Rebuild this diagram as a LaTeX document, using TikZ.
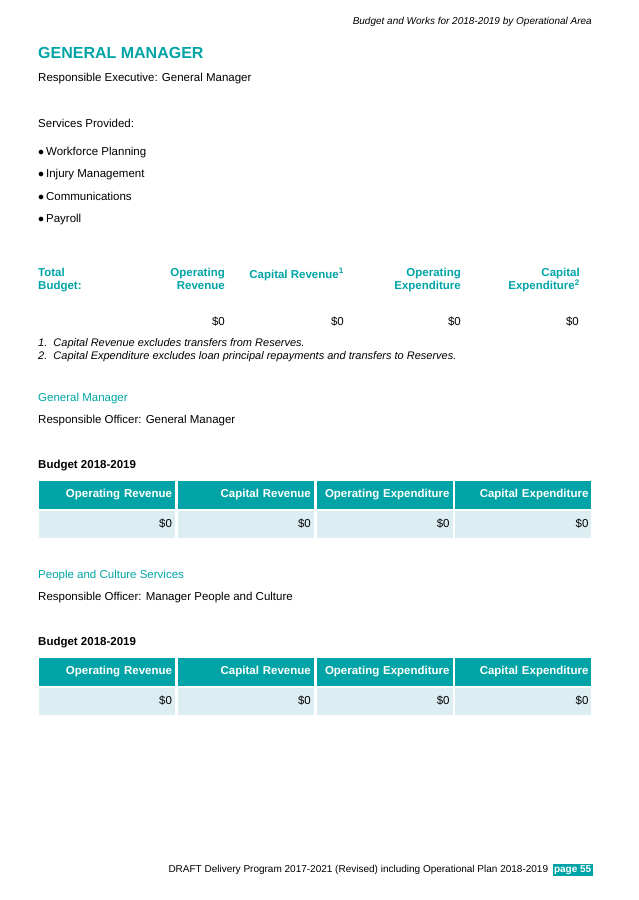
\documentclass[tikz,border=0pt]{standalone}
\usepackage{fontspec}
\setmainfont{Liberation Sans}
\usetikzlibrary{positioning}
\definecolor{teal1}{HTML}{00A4A6}
\definecolor{cellbg}{HTML}{DDEEF3}
\tikzset{txt/.style={anchor=base west, inner sep=0pt, font=\fontsize{11.5}{13}\selectfont},
  rtxt/.style={anchor=base east, inner sep=0pt, font=\fontsize{11.5}{13}\selectfont},
  tbold/.style={rtxt, text=teal1, font=\fontsize{11.5}{13}\selectfont\bfseries},
  hcell/.style={fill=teal1, text=white, minimum width=136pt, minimum height=28pt, inner sep=3pt, align=right, text width=130pt, font=\fontsize{11.5}{13}\selectfont\bfseries},
  dcell/.style={fill=cellbg, minimum width=136pt, minimum height=27pt, inner sep=3pt, align=right, text width=130pt, font=\fontsize{11.5}{13}\selectfont}}
\begin{document}
\begin{tikzpicture}[x=1pt,y=-1pt]
\useasboundingbox (0,0) rectangle (638,900);
% header
\node[rtxt, font=\fontsize{10}{12}\selectfont\itshape] (hd) at (592,24) {Budget and Works for 2018-2019 by Operational Area};
\node[txt, text=teal1, font=\fontsize{16}{18}\selectfont\bfseries] (title) at (38,58) {GENERAL MANAGER};
\node[txt] (exec) at (38,81) {Responsible Executive: General Manager};
\node[txt] (serv) at (38,127) {Services Provided:};
\foreach \t [count=\i] in {Workforce Planning, Injury Management, Communications, Payroll}
  \node[txt] (b\i) at (38,155+22.6*\i-22.6) {$\bullet$\,\t};
% total budget
\node[txt, text=teal1, font=\fontsize{11.5}{13}\selectfont\bfseries, align=left, anchor=north west] (tot) at (38,268) {Total\\Budget:};
\node[tbold, align=right, anchor=north east] (or) at (225,268) {Operating\\Revenue};
\node[tbold, anchor=north east] (cr) at (344,268) {Capital Revenue\textsuperscript{1}};
\node[tbold, align=right, anchor=north east] (oe) at (461,268) {Operating\\Expenditure};
\node[tbold, align=right, anchor=north east] (ce) at (580,268) {Capital\\Expenditure\textsuperscript{2}};
\foreach \x/\n in {225/v1,344/v2,461/v3,579/v4}
  \node[rtxt] (\n) at (\x,325) {\$0};
\node[txt, font=\fontsize{11}{13}\selectfont\itshape] (fn1) at (38,346) {1.\ \ Capital Revenue excludes transfers from Reserves.};
\node[txt, font=\fontsize{11}{13}\selectfont\itshape] (fn2) at (38,359) {2.\ \ Capital Expenditure excludes loan principal repayments and transfers to Reserves.};
% sections
\foreach \y/\name/\off/\s in {0/General Manager/General Manager/a, 177/People and Culture Services/Manager People and Culture/b}{
  \node[txt, text=teal1] (sec\s) at (38,401+\y) {\name};
  \node[txt] (off\s) at (38,423+\y) {Responsible Officer: \off};
  \node[txt, font=\fontsize{11.5}{13}\selectfont\bfseries] (bud\s) at (38,468+\y) {Budget 2018-2019};
  \foreach \h [count=\i] in {Operating Revenue, Capital Revenue, Operating Expenditure, Capital Expenditure}{
    \node[hcell] (h\s\i) at (107+138.8*\i-138.8,495+\y) {\h};
    \node[dcell] (d\s\i) at (107+138.8*\i-138.8,524+\y) {\$0};
  }
}
% footer
\node[fill=teal1, text=white, inner sep=1.5pt, anchor=east, font=\fontsize{10}{12}\selectfont\bfseries] (pg) at (593,870) {page 55};
\node[anchor=east, inner sep=0pt, font=\fontsize{10}{12}\selectfont, left=4pt of pg] (ft) {DRAFT Delivery Program 2017-2021 (Revised) including Operational Plan 2018-2019};
\end{tikzpicture}
\end{document}
